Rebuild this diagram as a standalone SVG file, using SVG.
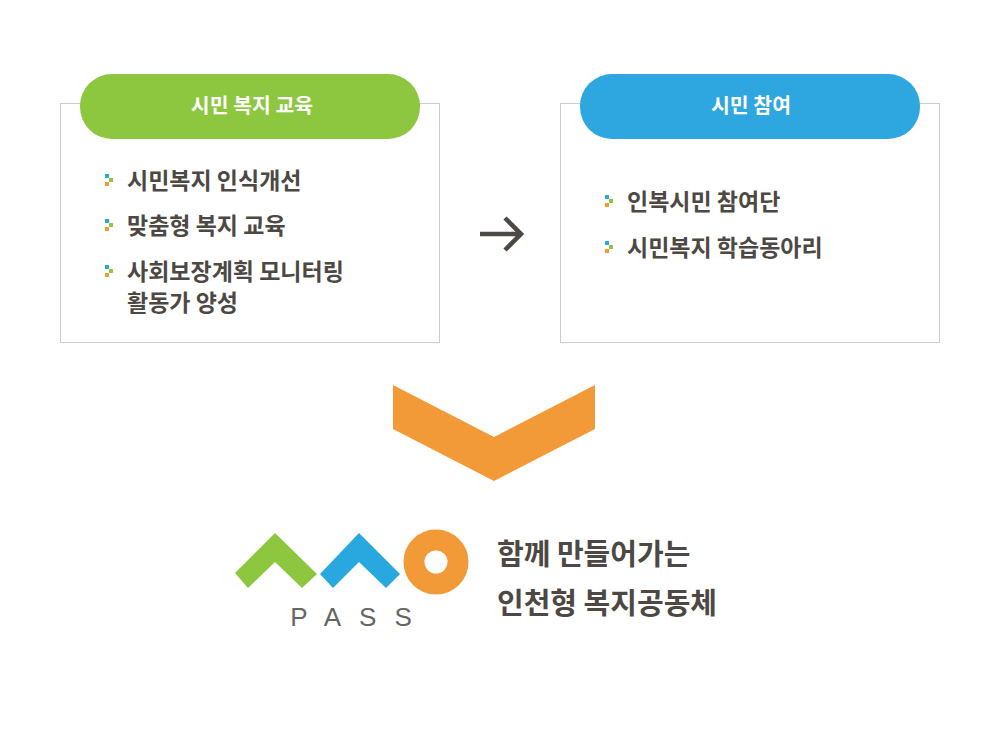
<svg xmlns="http://www.w3.org/2000/svg" width="1000" height="740" viewBox="0 0 1000 740">
<style>
.box{fill:#fff;stroke:#cccccc;stroke-width:1}
.t{font-family:"Noto Sans CJK KR","Noto Sans",sans-serif;font-weight:bold;fill:#4d4844;font-size:23px}
.s{font-size:29px}
.h{font-family:"Noto Sans CJK KR","Noto Sans",sans-serif;font-weight:bold;fill:#fff;font-size:20.5px;text-anchor:middle}
</style>
<defs>
<g id="b"><rect x="0" y="0" width="4" height="4" fill="#2aa7e0"/><rect x="4" y="4" width="4" height="4" fill="#8dc63f"/><rect x="0" y="8" width="4" height="4" fill="#f39a38"/></g>
</defs>
<rect width="1000" height="740" fill="#fff"/>
<g id="left">
<rect class="box" x="60.5" y="103.5" width="379" height="239"/>
<rect x="80" y="74" width="340" height="65" rx="32" fill="#8dc63f"/>
<text class="h" x="252" y="113">시민 복지 교육</text>
<use href="#b" x="105" y="174"/><text class="t" x="127" y="189">시민복지 인식개선</text>
<use href="#b" x="105" y="219"/><text class="t" x="127" y="234">맞춤형 복지 교육</text>
<use href="#b" x="105" y="265"/><text class="t" x="127" y="280">사회보장계획 모니터링</text>
<text class="t" x="127" y="311">활동가 양성</text>
</g>
<g id="right">
<rect class="box" x="560.5" y="103.5" width="379" height="239"/>
<rect x="580" y="74" width="340" height="65" rx="32" fill="#2ea6df"/>
<text class="h" x="751" y="113">시민 참여</text>
<use href="#b" x="605" y="195"/><text class="t" x="627" y="210">인복시민 참여단</text>
<use href="#b" x="605" y="241"/><text class="t" x="627" y="256">시민복지 학습동아리</text>
</g>
<g id="connectors">
<path d="M480 234 H520 M505 218 L521 234 L505 250" fill="none" stroke="#4d4844" stroke-width="4.5"/>
<polygon points="393,385 494,437 595,385 595,429 494,481 393,429" fill="#f39a38"/>
</g>
<g id="logo">
<polygon points="235,573 275,533 317,574 302,588 275,562 248,588" fill="#8dc63f"/>
<polygon points="320,574 359,533 400,574 386,588 359,562 333,588" fill="#29a8e0"/>
<circle cx="436" cy="562" r="22" fill="none" stroke="#f39a38" stroke-width="21"/>
<text x="360" y="626" font-family="Liberation Sans,sans-serif" font-size="26" fill="#666" text-anchor="middle" letter-spacing="18">PASS</text>
</g>
<g id="slogan">
<text class="t s" x="497" y="565">함께 만들어가는</text>
<text class="t s" x="497" y="614">인천형 복지공동체</text>
</g>
</svg>
